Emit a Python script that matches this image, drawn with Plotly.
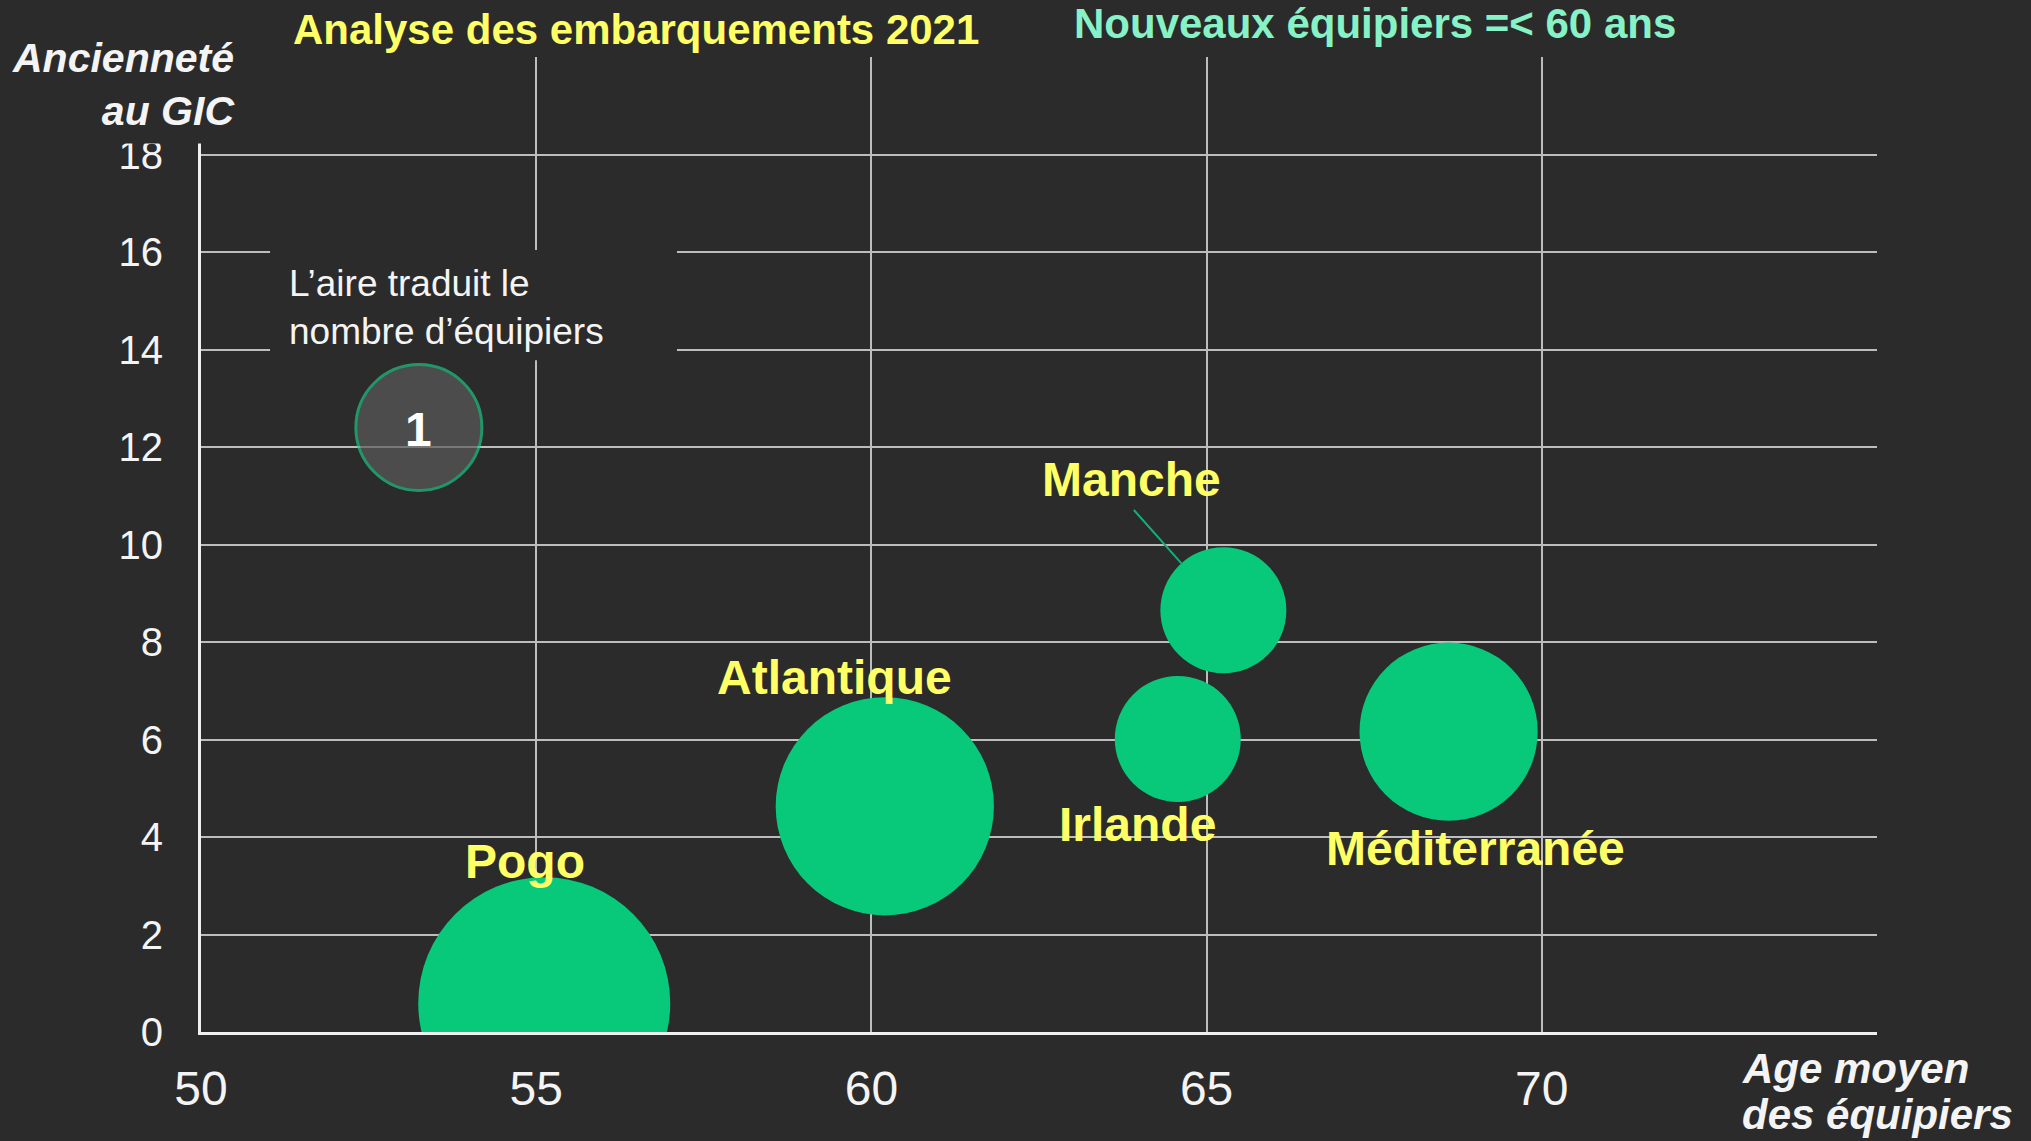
import plotly.graph_objects as go

# ---------------- data ----------------
regions = ["Pogo", "Atlantique", "Irlande", "Manche", "Méditerranée"]
age_moyen = [55.12, 60.20, 64.57, 65.25, 68.61]      # Age moyen des équipiers
anciennete = [0.59, 4.63, 6.01, 8.65, 6.16]         # Ancienneté au GIC
nb_equipiers = [4, 3, 1, 1, 2]                      # bubble area

legend_age = [53.25]
legend_anc = [12.40]
legend_size = [1]
legend_text = ["1"]

x_tickvals = [50, 55, 60, 65, 70, 75]
x_ticktext = ["50", "55", "60", "65", "70", ""]
y_tickvals = [0, 2, 4, 6, 8, 10, 12, 14, 16, 18, 20]
y_ticktext = ["0", "2", "4", "6", "8", "10", "12", "14", "16", "18", ""]

# ---------------- style ----------------
BG = "#2b2b2b"
GREEN = "#08c97a"
YELLOW = "#ffff66"
MINT = "#86f2c6"
WHITE = "#f4f4f4"
GRID = "#bdbdbd"
FONT = "Liberation Sans, Arial, sans-serif"
R1 = 63.0                       # px radius of a bubble worth 1
SIZEREF = 1.0 / (2 * R1 ** 2)   # plotly area mode: r = sqrt(v / 2 / sizeref)

# label offsets (px) relative to bubble centres
label_shift = {
    "Pogo": (-19, 142),
    "Atlantique": (-50, 129),
    "Irlande": (-40, -85),
    "Manche": (-92, 131),
    "Méditerranée": (27, -117),
}

fig = go.Figure()

fig.add_trace(go.Scatter(
    x=age_moyen, y=anciennete, mode="markers",
    marker=dict(size=nb_equipiers, sizemode="area", sizeref=SIZEREF,
                color=GREEN, opacity=1, line=dict(width=0)),
    cliponaxis=True, hoverinfo="skip", showlegend=False,
))

fig.add_trace(go.Scatter(
    x=legend_age, y=legend_anc, mode="markers",
    marker=dict(size=legend_size, sizemode="area", sizeref=SIZEREF,
                color="#5b5b5b", line=dict(width=3, color="#1ec584")),
    hoverinfo="skip", showlegend=False,
))

annotations = []
for name, xv, yv in zip(regions, age_moyen, anciennete):
    dx, dy = label_shift[name]
    annotations.append(dict(
        x=xv, y=yv, xref="x", yref="y", text="<b>%s</b>" % name,
        showarrow=False, xshift=dx, yshift=dy, xanchor="center", yanchor="middle",
        font=dict(family=FONT, size=48, color=YELLOW)))

# number inside the size-legend bubble
annotations.append(dict(
    x=legend_age[0], y=legend_anc[0], xref="x", yref="y",
    text="<b>%s</b>" % legend_text[0], showarrow=False, yshift=-2,
    xanchor="center", yanchor="middle",
    font=dict(family=FONT, size=48, color="#ffffff")))

# leader line for Manche
mi = regions.index("Manche")
annotations.append(dict(
    x=age_moyen[mi], y=anciennete[mi], xref="x", yref="y", text=" ",
    showarrow=True, arrowhead=0, arrowwidth=2, arrowcolor="#14ad7c",
    ax=-91, ay=-102, standoff=R1, font=dict(size=1, color=BG)))

# titles
annotations += [
    dict(text="<b>Analyse des embarquements 2021</b>", xref="paper", yref="paper",
         x=0.2595, y=1.0285, xanchor="center", yanchor="middle", showarrow=False,
         font=dict(family=FONT, size=42, color=YELLOW)),
    dict(text="<b>Nouveaux équipiers =< 60 ans</b>", xref="paper", yref="paper",
         x=0.7002, y=1.0345, xanchor="center", yanchor="middle", showarrow=False,
         font=dict(family=FONT, size=42, color=MINT)),
    dict(text="<b><i>Ancienneté<br>au GIC</i></b>", xref="paper", yref="paper",
         x=0.0263, y=0.9723, xanchor="right", yanchor="middle", align="right",
         showarrow=False, bgcolor=BG, borderpad=9,
         font=dict(family=FONT, size=41, color=WHITE)),
    dict(text="<b><i>Age moyen</i></b>", xref="paper", yref="paper",
         x=0.9185, y=-0.0375, xanchor="left", yanchor="middle", showarrow=False,
         font=dict(family=FONT, size=42, color=WHITE)),
    dict(text="<b><i>des équipiers</i></b>", xref="paper", yref="paper",
         x=0.9185, y=-0.0845, xanchor="left", yanchor="middle", showarrow=False,
         font=dict(family=FONT, size=42, color=WHITE)),
    dict(text="L’aire traduit le<br>nombre d’équipiers", xref="paper", yref="paper",
         x=0.0515, y=0.7435, xanchor="left", yanchor="middle", align="left",
         showarrow=False, font=dict(family=FONT, size=37, color=WHITE)),
]

shapes = [
    dict(type="rect", xref="paper", yref="paper", x0=0.0412, x1=0.284,
         y0=0.689, y1=0.802, fillcolor=BG, line=dict(width=0), layer="above"),
]

fig.update_layout(
    width=2031, height=1141,
    margin=dict(l=201, r=154, t=57, b=109, pad=0),
    paper_bgcolor=BG, plot_bgcolor=BG,
    font=dict(family=FONT, color=WHITE),
    annotations=annotations, shapes=shapes,
    xaxis=dict(range=[50, 75], tickvals=x_tickvals, ticktext=x_ticktext,
               showgrid=True, gridcolor=GRID, gridwidth=2, zeroline=False,
               showline=True, linecolor="#f0f0f0", linewidth=3,
               ticks="", ticklabelstandoff=12,
               tickfont=dict(family=FONT, size=48, color=WHITE)),
    yaxis=dict(range=[0, 20], tickvals=y_tickvals, ticktext=y_ticktext,
               showgrid=True, gridcolor=GRID, gridwidth=2, zeroline=False,
               showline=True, linecolor="#f0f0f0", linewidth=3,
               ticks="", ticklabelstandoff=27,
               tickfont=dict(family=FONT, size=40, color=WHITE)),
)

fig.write_html("out.html", config={"displayModeBar": False},
               post_script="document.body.style.margin='0';")
